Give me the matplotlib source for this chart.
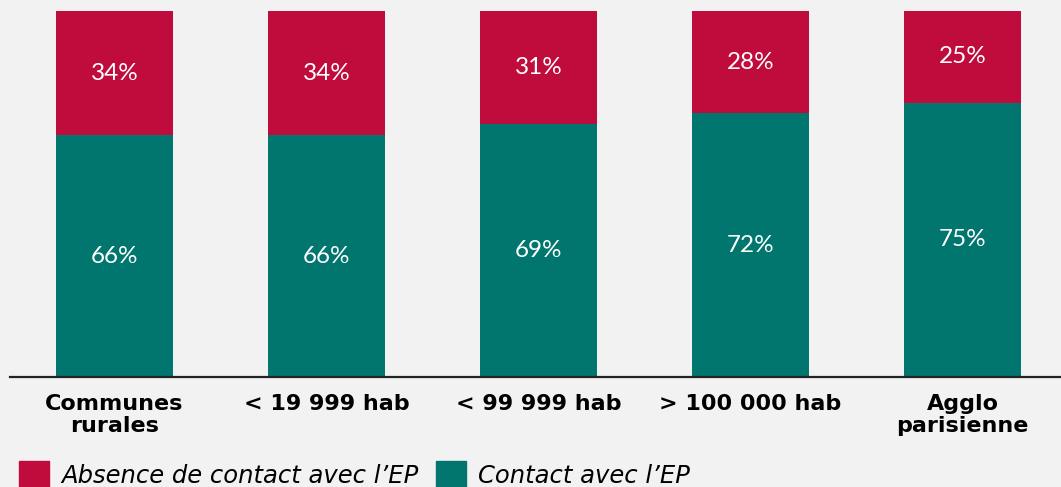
import numpy as np
import matplotlib
matplotlib.use("Agg")
import matplotlib.pyplot as plt
from matplotlib.patches import Patch

categories = ["Communes\nrurales", "< 19 999 hab", "< 99 999 hab", "> 100 000 hab", "Agglo\nparisienne"]
contact = [66, 66, 69, 72, 75]
absence = [34, 34, 31, 28, 25]

RED = "#c00c3c"
TEAL = "#00766e"
BG = "#f2f2f2"

plt.rcParams.update({"font.family": ["DejaVu Sans"]})

fig = plt.figure(figsize=(10.61, 4.87), dpi=100, facecolor=BG)
ax = fig.add_axes([10/1061, 110/487, 1051/1061, 366/487], facecolor=BG)

x = np.arange(len(categories))
w = 117/212
ax.bar(x, contact, width=w, color=TEAL)
ax.bar(x, absence, bottom=contact, width=w, color=RED)

for i in range(len(categories)):
    ax.text(x[i], contact[i]/2, f"{contact[i]}%", ha="center", va="center",
            color="white", fontsize=17.5, family="Lato")
    ax.text(x[i], contact[i] + absence[i]/2, f"{absence[i]}%", ha="center", va="center",
            color="white", fontsize=17.5, family="Lato")

ax.set_xlim(-104.5/212, 946.5/212)
ax.set_ylim(0, 100)
ax.set_xticks(x)
ax.set_xticklabels(categories, fontsize=16, fontweight="bold", linespacing=1.15)
ax.tick_params(axis="x", length=0, pad=12)
ax.set_yticks([])
for s in ("top", "right", "left"):
    ax.spines[s].set_visible(False)
ax.spines["bottom"].set_linewidth(1.6)
ax.spines["bottom"].set_color("#222222")

handles = [Patch(color=RED, label="Absence de contact avec l\u2019EP"),
           Patch(color=TEAL, label="Contact avec l\u2019EP")]
fig.legend(handles=handles, loc="upper left", bbox_to_anchor=(0.018, 0.053), ncol=2,
           frameon=False, prop={"size": 17.5, "style": "italic"},
           handlelength=1.25, handleheight=1.3, handletextpad=0.5, columnspacing=0.7,
           borderaxespad=0, borderpad=0)

fig.savefig("out.png", dpi=100, facecolor=BG)
